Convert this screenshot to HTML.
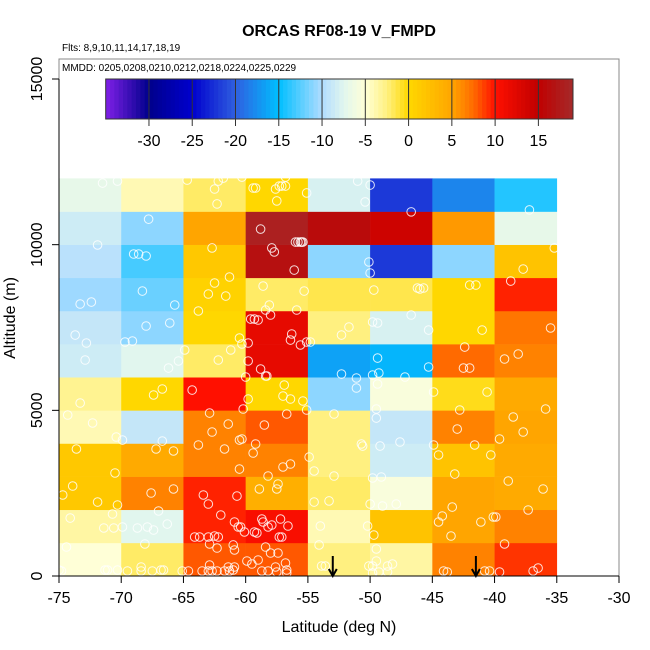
<!DOCTYPE html>
<html><head><meta charset="utf-8"><style>
html,body{margin:0;padding:0;background:#fff;}
svg{display:block;font-family:"Liberation Sans",Arial,sans-serif;}
</style></head><body>
<svg id="chart" width="650" height="650" viewBox="0 0 650 650"></svg>
<script>
const latBins=[-75,-70,-65,-60,-55,-50,-45,-40];
const altBins=[0,1000,2000,3000,4000,5000,6000,7000,8000,9000,10000,11000];
// values[row][col], row 0 = 0-1000 m
const values=[
[-5,-2,8,8,-2.5,-3.5,6.5,9],
[-3.5,-7.5,9.5,10.5,-4,2,5,6.5],
[1.5,6.5,9.5,4,-2,-5.5,5,4.5],
[1.5,4.5,6.5,6.5,-2.5,-8.5,2,4.5],
[-4,-9,6.5,8,-2.5,-9,6.5,5],
[-3,0,10,0,-11,-5.5,-0.5,4.5],
[-8.5,-7.5,-2,12,-16.5,-15.5,7.5,6.5],
[-9,-11,0,12,-2.5,-8,0,7],
[-10.5,-12,0.5,-2,-1.5,-1.5,0,9.5],
[-9.5,-13,1.5,16.5,-11,-22,-11,2],
[-8.5,-11,5,18,16,14,5.5,-7],
[-7,-4,-2,0,-8,-22,-18,-14]
];
const xTicks=[-75,-70,-65,-60,-55,-50,-45,-40,-35,-30];
const yTicks=[0,5000,10000,15000];
const cbTicks=[-30,-25,-20,-15,-10,-5,0,5,10,15];
const arrowLats=[-53,-41.5];
const ptLat=[-71.5,-70.3,-64.7,-62.5,-62.2,-61.8,-62.3,-60.3,-59.4,-59.2,-57.6,-57.3,-57.1,-56.8,-56.8,-57.5,-55.1,-51.0,-50.0,-50.4,-46.7,-37.2,-67.8,-71.9,-58.8,-56.0,-55.8,-55.6,-55.5,-55.4,-57.9,-57.7,-56.1,-62.7,-69.0,-68.6,-68.0,-50.1,-50.0,-35.2,-37.7,-62.5,-61.3,-63.0,-61.6,-63.8,-58.6,-55.3,-58.1,-58.4,-58.0,-55.9,-49.7,-46.2,-46.0,-45.7,-42.0,-41.5,-38.7,-68.3,-73.3,-72.4,-65.7,-73.7,-72.8,-68.0,-66.1,-69.7,-69.1,-59.6,-59.3,-59.0,-56.3,-56.4,-55.6,-55.1,-54.8,-51.7,-52.3,-49.8,-49.4,-46.7,-45.3,-41.0,-35.5,-60.5,-60.3,-59.8,-64.9,-61.2,-62.2,-65.4,-66.2,-72.9,-59.8,-58.8,-58.4,-58.3,-52.3,-51.1,-49.4,-49.3,-49.8,-45.3,-47.2,-42.4,-42.5,-42.0,-39.2,-38.1,
-60.0,-56.9,-57.0,-56.4,-55.4,-59.8,-60.2,-64.3,-67.4,-66.7,-73.3,-51.1,-49.4,-44.9,-40.6,-35.9,-74.3,-72.3,-62.9,-61.4,-62.7,-60.5,-60.3,-58.5,-56.7,-55.1,-52.9,-49.5,-49.5,-42.8,-43.0,-38.5,-37.7,-39.6,-70.4,-69.9,-66.7,-73.6,-67.2,-65.8,-63.8,-61.7,-59.2,-59.4,-50.7,-50.6,-49.2,-47.6,-44.9,-44.5,-41.6,-40.3,-54.9,-70.5,-60.5,-57.0,-56.4,-58.2,-54.5,-52.9,-49.8,-49.1,-43.2,-74.7,-73.9,-71.9,-70.3,-67.6,-65.8,-67.0,-63.4,-63.0,-60.7,-58.9,-57.4,-57.5,-54.5,-53.3,-50.0,-49.0,-47.9,-43.4,-38.9,-36.1,-37.3,-74.1,-70.7,-71.4,-70.6,-69.9,-68.7,-67.9,-67.4,-66.3,-62.0,-60.9,-60.6,-60.4,-60.1,-64.1,-63.7,-63.0,-62.5,-62.2,-62.9,-62.3,-61.0,-60.9,-59.3,-59.1,-58.7,-58.6,-58.2,-57.9,-57.2,-56.6,-57.3,-57.1,-54.0,-50.2,-49.7,-44.2,-44.5,-41.1,-43.5,-40.1,-39.9,-39.2,-74.4,-68.1,-49.5,-54.1,
-75.0,-74.8,-71.3,-71.1,-70.3,-69.5,-68.4,-68.4,-67.5,-66.8,-66.6,-65.1,-64.6,-63.5,-63.0,-62.7,-62.3,-61.7,-61.3,-61.0,-60.9,-61.4,-62.9,-59.9,-59.5,-59.0,-58.7,-58.2,-57.6,-57.5,-56.8,-56.7,-56.7,-58.0,-57.4,-58.4,-53.9,-53.6,-50.1,-49.8,-49.5,-48.6,-48.2,-48.6,-49.8,-49.3,-44.1,-43.8,-40.8,-40.4,-39.6,-36.9,-36.5];
const ptAlt=[11860,11920,11950,11680,11920,12010,11230,12040,11710,11710,11680,11770,11770,11770,12040,11320,11560,11920,11800,11290,10990,11050,10770,9990,10470,10080,10080,10080,10080,10080,9900,9780,9235,9900,9718,9718,9658,9477,9145,9900,9265,8843,9024,8511,8450,7998,8752,8601,8179,8028,7877,8028,8631,8692,8662,8692,8782,8782,8903,8601,8209,8269,8179,7273,7032,7545,7636,7062,7092,7756,7756,7726,7304,7122,6972,7062,7062,7515,7273,7666,7636,7877,7424,7424,7485,7183,7002,7032,6821,6821,6519,6489,6277,6519,6489,6247,6036,6036,6096,5976,6579,6127,6066,6308,6006,6911,6277,6277,6549,6700,
6006,5764,5432,5342,5282,5342,5040,5613,5463,5644,5221,5674,5795,5553,5553,5040,4859,4618,4919,4587,4346,4104,4135,4557,4889,5010,4889,4768,5040,5010,4436,4799,4346,4135,4195,4104,4074,3833,3833,3773,3954,3833,3984,3712,3984,3923,3923,4044,3954,3652,3954,3652,3591,3109,3229,3290,3380,3018,3169,3018,2958,2988,3078,2445,2716,2233,2143,2505,2626,1962,2445,2173,2414,2626,2777,2626,2233,2264,2173,2113,2173,2082,2867,2626,1992,1750,1871,1449,1449,1479,1449,1479,1388,1569,1841,1630,1479,1479,1328,1177,1177,1177,1207,1177,966,845,936,785,1328,1298,1720,1630,1479,1539,1720,1509,1177,1177,1509,1509,1237,1811,1630,1630,1207,1781,1781,966,875,966,815,936,
181,151,181,181,181,151,272,151,151,181,181,151,151,151,151,151,151,151,151,181,272,272,332,453,362,483,151,151,272,121,392,181,91,694,694,875,302,302,302,302,453,302,362,121,91,121,151,121,151,151,121,151,241];

const NS='http://www.w3.org/2000/svg';
const svg=document.getElementById('chart');
const X0=59,X1=619,Y0=576,PXA=497/15000;
function xs(lat){return X0+(lat+75)*(X1-X0)/45;}
function ys(alt){return Y0-alt*PXA;}
function mk(tag,attrs,parent){const e=document.createElementNS(NS,tag);for(const k in attrs)e.setAttribute(k,attrs[k]);(parent||svg).appendChild(e);return e;}
const stops=[[-35,[128,32,232]],[-30,[0,0,139]],[-25,[0,0,205]],[-20,[47,95,224]],[-15,[0,191,255]],[-10,[176,220,255]],[-7.5,[225,246,238]],[-5,[255,255,215]],[-2.5,[255,240,128]],[0,[255,215,0]],[5,[255,165,0]],[7.5,[255,106,0]],[10,[255,16,0]],[15,[192,0,0]],[19,[165,42,42]]];
function cmap(v){if(v<=stops[0][0])return 'rgb('+stops[0][1]+')';for(let i=1;i<stops.length;i++){if(v<=stops[i][0]){const a=stops[i-1],b=stops[i];const t=(v-a[0])/(b[0]-a[0]);const c=a[1].map((q,j)=>Math.round(q+(b[1][j]-q)*t));return 'rgb('+c.join(',')+')';}}return 'rgb('+stops[stops.length-1][1]+')';}

let t=mk('text',{x:339,y:36,'text-anchor':'middle','font-size':16,'font-weight':'bold'});t.textContent='ORCAS RF08-19 V_FMPD';


t=mk('text',{x:62,y:51,'font-size':10});t.textContent='Flts: 8,9,10,11,14,17,18,19';



const cg=mk('g',{});


values.forEach((row,r)=>{row.forEach((v,c)=>{
  const x=xs(latBins[c]),x2=xs(latBins[c]+5),y=ys(altBins[r]+1000),y2=ys(altBins[r]);
  const e=mk('rect',{x:x,y:y,width:x2-x+0.3,height:y2-y+0.3,fill:cmap(v)},cg);
  
  
});});

const pg=mk('g',{fill:'none',stroke:'#fff','stroke-width':1,'stroke-opacity':0.85});


for(let i=0;i<ptLat.length;i++){
  const e=mk('circle',{cx:xs(ptLat[i]),cy:ys(ptAlt[i]),r:4.3},pg);
  
  
}

const bx=mk('rect',{x:X0,y:59,width:X1-X0,height:Y0-59,fill:'none',stroke:'#888','stroke-width':1});


t=mk('text',{x:62,y:71,'font-size':10});t.textContent='MMDD: 0205,0208,0210,0212,0218,0224,0225,0229';



const CB0=105.7,CB1=573,CBT=79,CBB=119;
function cbx(v){return CB0+(v+35)*(CB1-CB0)/54;}
const cbg=mk('g',{});


for(let v=-35;v<19;v+=0.5){
  mk('rect',{x:cbx(v),y:CBT,width:cbx(v+0.5)-cbx(v)+0.4,height:CBB-CBT,fill:cmap(v+0.25)},cbg);
}
mk('rect',{x:CB0,y:CBT,width:CB1-CB0,height:CBB-CBT,fill:'none',stroke:'#333','stroke-width':1},cbg);
cbTicks.forEach(v=>{
  mk('line',{x1:cbx(v),x2:cbx(v),y1:CBT,y2:126,stroke:'#333','stroke-width':1},cbg);
  const e=mk('text',{x:cbx(v),y:146,'text-anchor':'middle','font-size':16},cbg);e.textContent=v;
  
  
});

const xa=mk('g',{});


mk('line',{x1:X0,x2:X1,y1:Y0,y2:Y0,stroke:'#000','stroke-width':1},xa);
xTicks.forEach(v=>{
  mk('line',{x1:xs(v),x2:xs(v),y1:Y0,y2:583,stroke:'#000'},xa);
  const e=mk('text',{x:xs(v),y:603,'text-anchor':'middle','font-size':16},xa);e.textContent=v;
  
  
});
t=mk('text',{x:339,y:632,'text-anchor':'middle','font-size':16});t.textContent='Latitude (deg N)';



const ya=mk('g',{});


mk('line',{x1:X0,x2:X0,y1:ys(15000),y2:Y0,stroke:'#000'},ya);
yTicks.forEach(v=>{
  mk('line',{x1:52,x2:X0,y1:ys(v),y2:ys(v),stroke:'#000'},ya);
  const e=mk('text',{x:0,y:0,'text-anchor':'middle','font-size':16,transform:'translate(42,'+ys(v)+') rotate(-90)'},ya);e.textContent=v;
  
  
});
t=mk('text',{x:0,y:0,'text-anchor':'middle','font-size':16,transform:'translate(15,318) rotate(-90)'});t.textContent='Altitude (m)';



arrowLats.forEach(l=>{
  const g=mk('g',{stroke:'#000','stroke-width':2,fill:'none'});
  
  
  const x=xs(l);
  mk('line',{x1:x,x2:x,y1:556,y2:576},g);
  mk('polyline',{points:(x-4)+',569 '+x+',576 '+(x+4)+',569'},g);
});
</script>
</body></html>
